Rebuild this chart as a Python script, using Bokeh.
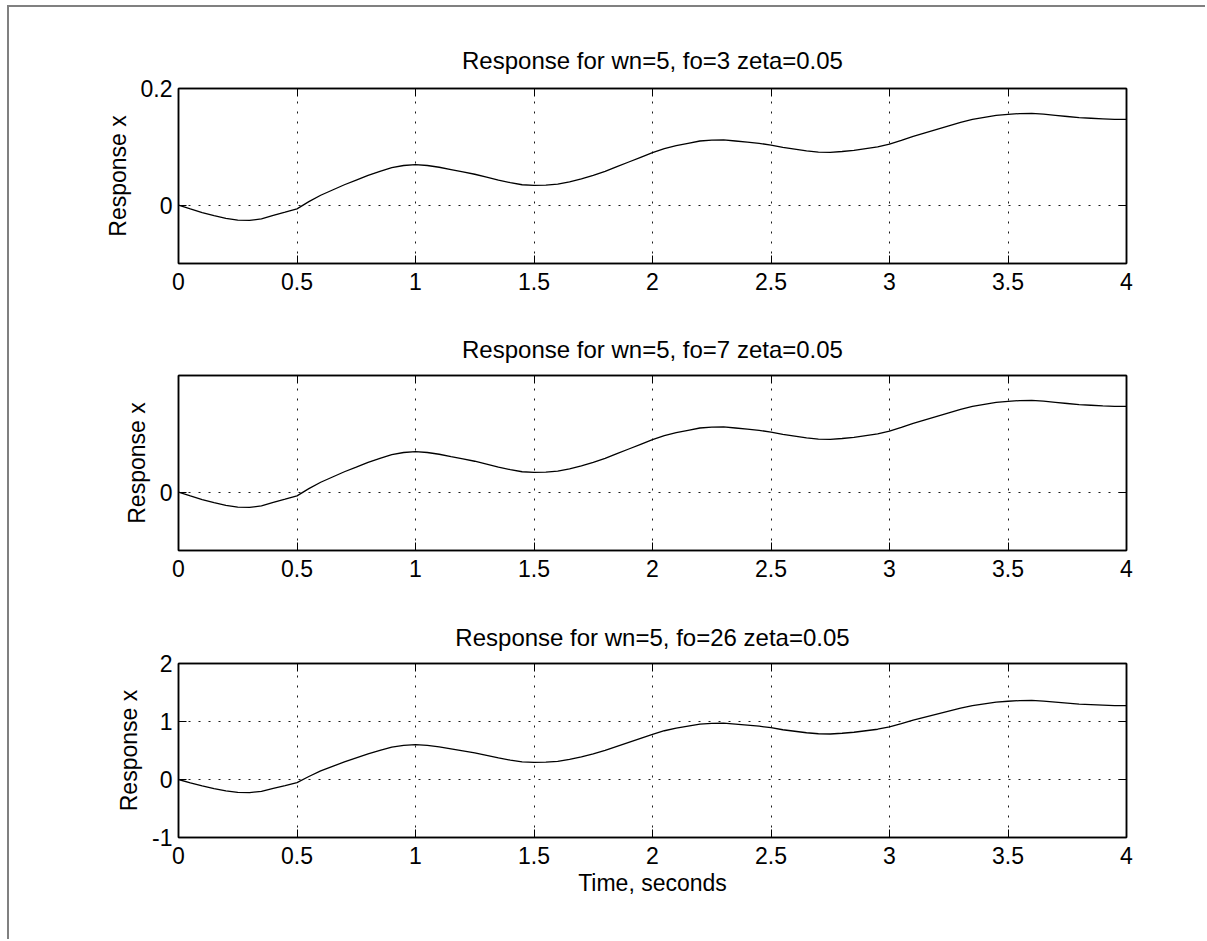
from bokeh.plotting import figure
from bokeh.models import Range1d, FixedTicker, LinearAxis
from bokeh.layouts import column
from bokeh.embed import file_html
from bokeh.resources import INLINE

# ---- data ----
time_s = [0.00, 0.05, 0.10, 0.15, 0.20, 0.25, 0.30, 0.35, 0.40, 0.45,
          0.50, 0.55, 0.60, 0.65, 0.70, 0.75, 0.80, 0.85, 0.90, 0.95,
          1.00, 1.05, 1.10, 1.15, 1.20, 1.25, 1.30, 1.35, 1.40, 1.45,
          1.50, 1.55, 1.60, 1.65, 1.70, 1.75, 1.80, 1.85, 1.90, 1.95,
          2.00, 2.05, 2.10, 2.15, 2.20, 2.25, 2.30, 2.35, 2.40, 2.45,
          2.50, 2.55, 2.60, 2.65, 2.70, 2.75, 2.80, 2.85, 2.90, 2.95,
          3.00, 3.05, 3.10, 3.15, 3.20, 3.25, 3.30, 3.35, 3.40, 3.45,
          3.50, 3.55, 3.60, 3.65, 3.70, 3.75, 3.80, 3.85, 3.90, 3.95, 4.00]

resp_fo3 = [0.0, -0.0065, -0.0128, -0.018, -0.0225, -0.0258, -0.0262, -0.0235, -0.0175, -0.012,
            -0.0063, 0.006, 0.017, 0.026, 0.035, 0.043, 0.051, 0.058, 0.0644, 0.068,
            0.0695, 0.068, 0.065, 0.061, 0.057, 0.053, 0.048, 0.043, 0.0385, 0.035,
            0.034, 0.0345, 0.036, 0.040, 0.045, 0.051, 0.058, 0.066, 0.074, 0.082,
            0.090, 0.097, 0.102, 0.106, 0.110, 0.1115, 0.112, 0.110, 0.108, 0.106,
            0.103, 0.099, 0.096, 0.093, 0.091, 0.0905, 0.092, 0.094, 0.097, 0.100,
            0.1046, 0.111, 0.118, 0.124, 0.130, 0.136, 0.142, 0.147, 0.1506, 0.154,
            0.1557, 0.157, 0.1575, 0.156, 0.154, 0.152, 0.150, 0.149, 0.148, 0.147, 0.147]

resp_fo7 = [0.0, -0.0152, -0.0299, -0.042, -0.0525, -0.0602, -0.0611, -0.0548, -0.0408, -0.028,
            -0.0147, 0.014, 0.0397, 0.0607, 0.0817, 0.1003, 0.119, 0.1353, 0.1503, 0.1587,
            0.1622, 0.1587, 0.1517, 0.1423, 0.133, 0.1237, 0.112, 0.1003, 0.0898, 0.0817,
            0.0793, 0.0805, 0.084, 0.0933, 0.105, 0.119, 0.1353, 0.154, 0.1727, 0.1913,
            0.21, 0.2263, 0.238, 0.2473, 0.2567, 0.2602, 0.2613, 0.2567, 0.252, 0.2473,
            0.2403, 0.231, 0.224, 0.217, 0.2123, 0.2112, 0.2147, 0.2193, 0.2263, 0.2333,
            0.2441, 0.259, 0.2753, 0.2893, 0.3033, 0.3173, 0.3313, 0.343, 0.3514, 0.3593,
            0.3633, 0.3663, 0.3675, 0.364, 0.3593, 0.3547, 0.35, 0.3477, 0.3453, 0.343, 0.343]

resp_fo26 = [0.0, -0.0563, -0.1109, -0.156, -0.195, -0.2236, -0.2271, -0.2037, -0.1517, -0.104,
             -0.0546, 0.052, 0.1473, 0.2253, 0.3033, 0.3727, 0.442, 0.5027, 0.5581, 0.5893,
             0.6023, 0.5893, 0.5633, 0.5287, 0.494, 0.4593, 0.416, 0.3727, 0.3337, 0.3033,
             0.2947, 0.299, 0.312, 0.3467, 0.39, 0.442, 0.5027, 0.572, 0.6413, 0.7107,
             0.78, 0.8407, 0.884, 0.9187, 0.9533, 0.9663, 0.9707, 0.9533, 0.936, 0.9187,
             0.8927, 0.858, 0.832, 0.806, 0.7887, 0.7843, 0.7973, 0.8147, 0.8407, 0.8667,
             0.9065, 0.962, 1.0227, 1.0747, 1.1267, 1.1787, 1.2307, 1.274, 1.3052, 1.3347,
             1.3494, 1.3607, 1.365, 1.352, 1.3347, 1.3173, 1.3, 1.2913, 1.2827, 1.274, 1.274]

titles = ["Response for wn=5, fo=3 zeta=0.05",
          "Response for wn=5, fo=7 zeta=0.05",
          "Response for wn=5, fo=26 zeta=0.05"]

x_ticks = [0, 0.5, 1, 1.5, 2, 2.5, 3, 3.5, 4]
x_tick_labels = ["0", "0.5", "1", "1.5", "2", "2.5", "3", "3.5", "4"]

y_ranges = [(-0.1, 0.2), (-0.7 / 3, 1.4 / 3), (-1, 2)]
y_ticks = [[0, 0.2], [0], [-1, 0, 1, 2]]
y_tick_labels = [["0", "0.2"], ["0"], ["-1", "0", "1", "2"]]

y_label = "Response x"
x_label = "Time, seconds"

FONT = "Liberation Sans"
FS = "23px"
W = 1196


def style_axis(ax):
    ax.major_tick_in = 8
    ax.major_tick_out = 0
    ax.major_tick_line_color = "black"
    ax.major_tick_line_width = 1
    ax.minor_tick_line_color = None
    ax.axis_line_color = "black"
    ax.axis_line_width = 1.5
    ax.major_label_text_font = FONT
    ax.major_label_text_color = "black"
    ax.axis_label_text_font = FONT
    ax.axis_label_text_font_size = FS
    ax.axis_label_text_font_style = "normal"
    ax.axis_label_text_color = "black"


def make_panel(i, ys, h, bt, bb, title_gap, xlab=None):
    p = figure(width=W, height=h, title=titles[i],
               x_range=Range1d(0, 4), y_range=Range1d(*y_ranges[i]),
               output_backend="svg", toolbar_location=None,
               min_border_left=169, min_border_right=79,
               min_border_top=bt, min_border_bottom=bb,
               background_fill_color="white", border_fill_color="white")
    p.title.text_font = FONT
    p.title.text_font_size = "24px"
    p.title.text_font_style = "normal"
    p.title.align = "center"
    p.title.text_color = "black"
    p.title.standoff = title_gap

    p.outline_line_color = "black"
    p.outline_line_width = 1.5
    p.outline_line_alpha = 1

    xa = p.below[0]
    ya = p.left[0]
    xa.ticker = FixedTicker(ticks=x_ticks)
    xa.major_label_overrides = {v: s for v, s in zip(x_ticks, x_tick_labels)}
    xa.major_label_standoff = 9
    xa.major_label_text_font_size = FS
    ya.ticker = FixedTicker(ticks=y_ticks[i])
    ya.major_label_overrides = {v: s for v, s in zip(y_ticks[i], y_tick_labels[i])}
    ya.major_label_standoff = 6
    ya.major_label_text_font_size = FS
    ya.axis_label = y_label
    ya.axis_label_standoff = 7
    if xlab:
        xa.axis_label = xlab
        xa.axis_label_standoff = 3

    top = LinearAxis(ticker=FixedTicker(ticks=x_ticks))
    right = LinearAxis(ticker=FixedTicker(ticks=y_ticks[i]))
    p.add_layout(top, "above")
    p.add_layout(right, "right")

    for ax in [xa, ya, top, right]:
        style_axis(ax)
    for ax in [top, right]:
        ax.major_label_text_font_size = "0px"
        ax.major_label_text_alpha = 0
        ax.major_label_standoff = 0

    p.xgrid.ticker = FixedTicker(ticks=x_ticks)
    p.ygrid.ticker = FixedTicker(ticks=y_ticks[i])
    for g in [p.xgrid, p.ygrid]:
        g.grid_line_color = "black"
        g.grid_line_alpha = 0.9
        g.grid_line_width = 1
        g.grid_line_dash = "2 8"

    p.line(time_s, ys, line_color="black", line_width=1.3)
    return p


p1 = make_panel(0, resp_fo3, 313, 81, 57, 30)
p2 = make_panel(1, resp_fo7, 287, 55, 57, 26)
p3 = make_panel(2, resp_fo26, 332, 56, 102, 26, xlab=x_label)

lay = column(p1, p2, p3, styles={"border-left": "2px solid #808080",
                                 "border-top": "2px solid #808080",
                                 "margin-left": "7px", "margin-top": "5px",
                                 "background-color": "white"})

open("out.html", "w").write(file_html(lay, INLINE))
